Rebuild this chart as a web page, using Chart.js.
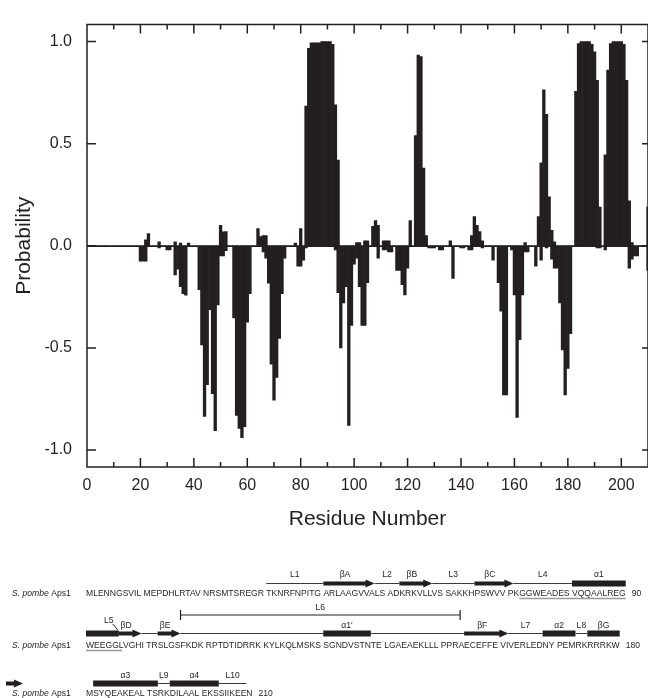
<!DOCTYPE html>
<html>
<head>
<meta charset="utf-8">
<title>Aps1 residue probability</title>
<script src="https://cdn.jsdelivr.net/npm/chart.js@4.4.1/dist/chart.umd.min.js"></script>
<style>
  body { margin: 0; background: #ffffff; }
  canvas { display: block; }
</style>
</head>
<body>
<canvas id="chart_canvas" width="648" height="698"></canvas>
<script>
var ink = '#231f20';
var family = '"Liberation Sans", Arial, sans-serif';

// residue numbers along the x axis
var residues = [];
for (var i = 1; i <= 210; i++) residues.push(i);

// upper trace, residues 1..210
var prob_up = [
    0, 0, 0, 0, 0, 0, 0, 0, 0, 0,
    0, 0, 0, 0, 0, 0, 0, 0, 0, 0,
    0, 0.029, 0.06, 0, 0, 0, 0.02, 0, 0, 0,
    0, 0, 0.02, 0, 0.013, 0, 0, 0.013, 0, 0,
    0, 0, 0, 0, 0, 0, 0, 0, 0, 0.10,
    0.068, 0.07, 0, 0, 0, 0, 0, 0, 0, 0,
    0, 0, 0, 0.084, 0.045, 0.05, 0.05, 0, 0, 0,
    0, 0, 0, 0, 0, 0, 0, 0.013, 0, 0.084,
    0, 0.684, 0.967, 0.994, 0.994, 0.994, 0.994, 1.0, 1.0, 1.0,
    1.0, 0.987, 0.69, 0.42, 0, 0, 0, 0, 0, 0,
    0.016, 0.016, 0, 0.024, 0.024, 0, 0.095, 0.123, 0.10, 0,
    0.024, 0.024, 0.024, 0, 0, 0, 0, 0, 0, 0,
    0.123, 0, 0.54, 0.934, 0.926, 0.38, 0.05, 0, 0, 0,
    0, 0, 0, 0, 0, 0.024, 0, 0, 0, 0,
    0, 0, 0, 0.05, 0.143, 0.10, 0.07, 0.024, 0, 0,
    0, 0, 0, 0, 0, 0, 0, 0, 0, 0,
    0, 0, 0, 0.016, 0, 0, 0, 0, 0.143, 0.406,
    0.764, 0.644, 0.24, 0.076, 0.02, 0, 0, 0, 0, 0,
    0, 0, 0.756, 0.99, 1.0, 1.0, 1.0, 1.0, 0.987, 0.95,
    0.81, 0.19, 0, 0.445, 0.86, 0.99, 1.0, 1.0, 1.0, 1.0,
    0.987, 0.81, 0.22, 0.016, 0, 0, 0, 0, 0, 0.19
];

// lower trace, residues 1..210
var prob_down = [
    0, 0, 0, 0, 0, 0, 0, 0, 0, 0,
    0, 0, 0, 0, 0, 0, 0, 0, 0, -0.075,
    -0.075, -0.075, 0, 0, 0, 0, -0.01, 0, 0, -0.02,
    -0.02, 0, -0.143, -0.115, -0.20, -0.234, -0.242, 0, 0, 0,
    0, -0.215, -0.485, -0.835, -0.68, -0.313, -0.724, -0.905, -0.29, -0.05,
    -0.05, -0.024, 0, 0, -0.353, -0.83, -0.894, -0.94, -0.886, -0.374,
    -0.234, 0, 0, 0, 0, -0.03, -0.06, -0.183, -0.58, -0.756,
    -0.645, -0.453, -0.234, -0.06, 0, 0, 0, 0, -0.10, -0.10,
    -0.07, -0.01, 0, 0, 0, 0, 0, 0, 0, 0,
    0, 0, -0.02, -0.23, -0.50, -0.28, -0.20, -0.88, -0.39, -0.09,
    -0.06, -0.20, -0.39, -0.39, -0.18, 0, 0, 0, -0.06, 0,
    -0.02, -0.02, -0.03, -0.03, 0, -0.12, -0.12, -0.19, -0.24, -0.11,
    0, 0, 0, 0, 0, 0, 0, -0.01, -0.01, -0.01,
    0, -0.02, -0.02, 0, 0, 0, -0.16, 0, 0, -0.01,
    -0.01, 0, -0.02, -0.02, 0, 0, 0, -0.01, 0, 0,
    0, -0.07, 0, -0.18, -0.32, -0.73, -0.73, 0, -0.02, -0.24,
    -0.84, -0.46, -0.24, -0.03, -0.03, 0, 0, -0.10, 0, -0.07,
    0, -0.01, 0, -0.065, -0.11, -0.11, -0.28, -0.51, -0.73, -0.60,
    -0.43, 0, 0, 0, 0, 0, 0, 0, 0, 0,
    -0.01, -0.01, 0, -0.02, 0, 0, 0, 0, 0, 0,
    0, 0, -0.11, -0.065, -0.05, -0.05, 0, 0, 0, -0.12
];

var x_ticks = [0, 20, 40, 60, 80, 100, 120, 140, 160, 180, 200];
var y_ticks = [-1.0, -0.5, 0.0, 0.5, 1.0];

// sequence, 90 residues per row
var seq_rows = [
    'MLENNGSVIL MEPDHLRTAV NRSMTSREGR TKNRFNPITG ARLAAGVVALS ADKRKVLLVS SAKKHPSWVV PKGGWEADES VQQAALREG',
    'WEEGGLVGHI TRSLGSFKDK RPTDTIDRRK KYLKQLMSKS SGNDVSTNTE LGAEAEKLLL PPRAECEFFE VIVERLEDNY PEMRKRRRKW',
    'MSYQEAKEAL TSRKDILAAL EKSSIIKEEN'
];
var seq_first = [1, 91, 181];
var seq_last = ['90', '180', '210'];

// secondary structure, by residue range
var ss_label = ['L1', 'βA', 'L2', 'βB', 'L3', 'βC', 'L4', 'α1', '', 'βD', '', 'βE', '', 'α1′', '', 'βF', 'L7', 'α2', 'L8', 'βG', 'α3', 'L9', 'α4', 'L10'];
var ss_kind = ['loop', 'strand', 'loop', 'strand', 'loop', 'strand', 'loop', 'helix', 'helix', 'strand', 'loop', 'strand', 'loop', 'helix', 'loop', 'strand', 'loop', 'helix', 'loop', 'helix', 'helix', 'loop', 'helix', 'loop'];
var ss_from = [31, 41, 50, 54, 60, 67, 73, 82, 91, 96, 100, 103, 107, 131, 139, 155, 163, 169, 174, 176, 182, 193, 195, 204];
var ss_to = [40, 49, 53, 59, 66, 72, 81, 90, 95, 99, 102, 106, 130, 138, 154, 162, 168, 173, 175, 180, 192, 194, 203, 209];
var loop6 = [107, 154];
var loop5_at = 96;
var motif = [74, 96];

var frame_plugin = {
    id: 'frame',
    afterDatasetsDraw: function(chart) {
        var ctx = chart.ctx, a = chart.chartArea;
        var xs = chart.scales.x, ys = chart.scales.y;
        ctx.save();
        ctx.strokeStyle = ink;
        ctx.lineWidth = 1;
        var y0 = Math.round(ys.getPixelForValue(0)) + 0.5;
        ctx.beginPath();
        ctx.moveTo(a.left, y0);
        ctx.lineTo(a.right, y0);
        ctx.stroke();

        ctx.lineWidth = 1.5;
        ctx.beginPath();
        ctx.rect(a.left, a.top, a.right - a.left, a.bottom - a.top);
        for (var v = 10; v < 210; v += 10) {
            var px = xs.getPixelForValue(v);
            var len = (v % 20 === 0) ? 9 : 5;
            ctx.moveTo(px, a.bottom);
            ctx.lineTo(px, a.bottom - len);
            ctx.moveTo(px, a.top);
            ctx.lineTo(px, a.top + len);
        }
        y_ticks.forEach(function(t) {
            var py = ys.getPixelForValue(t);
            ctx.moveTo(a.left, py);
            ctx.lineTo(a.left + 9, py);
            ctx.moveTo(a.right, py);
            ctx.lineTo(a.right - 6, py);
        });
        ctx.stroke();
        ctx.restore();
    }
};

var seq_left = 86;
var row_base = [596, 648, 696];
var row_bar = [583, 633, 683];
var row_label = [575, 626, 676];

function residue_row(n) {
    for (var r = seq_first.length - 1; r >= 0; r--) {
        if (n >= seq_first[r]) return r;
    }
    return 0;
}

// left edge of a residue letter in its row
function residue_x(ctx, row, n) {
    var s = seq_rows[row], k = n - seq_first[row], c = 0;
    for (var i = 0; i < s.length; i++) {
        if (s[i] === ' ') continue;
        if (c === k) return seq_left + ctx.measureText(s.slice(0, i)).width;
        c++;
    }
    return seq_left + ctx.measureText(s).width;
}

function draw_element(ctx, kind, x0, x1, y) {
    if (kind === 'loop') {
        ctx.strokeStyle = '#3a3a3a';
        ctx.lineWidth = 1;
        ctx.beginPath();
        ctx.moveTo(x0, y + 0.5);
        ctx.lineTo(x1, y + 0.5);
        ctx.stroke();
    } else if (kind === 'helix') {
        ctx.fillRect(x0, y - 2.5, x1 - x0, 6);
    } else {
        ctx.fillRect(x0, y - 1.5, x1 - x0 - 8, 4);
        ctx.beginPath();
        ctx.moveTo(x1 - 9, y - 3.5);
        ctx.lineTo(x1, y + 0.5);
        ctx.lineTo(x1 - 9, y + 4.5);
        ctx.closePath();
        ctx.fill();
    }
}

var seq_plugin = {
    id: 'sequence',
    afterDraw: function(chart) {
        var ctx = chart.ctx;
        ctx.save();
        // fit the first row to its printed width
        ctx.font = '10px ' + family;
        var fs = 10 * 540 / ctx.measureText(seq_rows[0]).width;
        var seq_font = fs.toFixed(2) + 'px ' + family;
        ctx.fillStyle = ink;
        ctx.textBaseline = 'alphabetic';
        ctx.textAlign = 'left';

        for (var r = 0; r < seq_rows.length; r++) {
            var base = row_base[r];
            ctx.font = 'italic 8.6px ' + family;
            ctx.fillText('S. pombe', 12, base);
            var w = ctx.measureText('S. pombe ').width;
            ctx.font = '8.6px ' + family;
            ctx.fillText('Aps1', 12 + w, base);
            ctx.font = seq_font;
            ctx.fillText(seq_rows[r], seq_left, base);
            var end = seq_left + ctx.measureText(seq_rows[r]).width;
            ctx.fillText(seq_last[r], end + 6, base);
        }

        ctx.font = seq_font;
        // underlined glycine-rich stretch
        ctx.strokeStyle = '#9a9a9a';
        ctx.lineWidth = 1.4;
        ctx.beginPath();
        for (var r2 = 0; r2 < seq_rows.length; r2++) {
            var lo = Math.max(motif[0], seq_first[r2]);
            var hi = Math.min(motif[1], r2 + 1 < seq_first.length ? seq_first[r2 + 1] - 1 : 210);
            if (lo > hi) continue;
            var ux0 = residue_x(ctx, r2, lo);
            var ux1 = (hi + 1 < (seq_first[r2 + 1] || 211)) ? residue_x(ctx, r2, hi + 1) - 1.5 : seq_left + ctx.measureText(seq_rows[r2]).width;
            ctx.moveTo(ux0, row_base[r2] + 2.5);
            ctx.lineTo(ux1, row_base[r2] + 2.5);
        }
        ctx.stroke();

        // secondary structure elements
        for (var e = 0; e < ss_kind.length; e++) {
            var row = residue_row(ss_from[e]);
            var x0 = residue_x(ctx, row, ss_from[e]);
            var x1 = residue_x(ctx, row, ss_to[e] + 1);
            ctx.fillStyle = ink;
            draw_element(ctx, ss_kind[e], x0, x1, row_bar[row]);
            if (ss_label[e]) {
                ctx.font = '8.6px ' + family;
                ctx.textAlign = 'center';
                ctx.textBaseline = 'middle';
                var cx = ss_kind[e] === 'strand' ? (x0 + x1 - 8) / 2 : (x0 + x1) / 2;
                ctx.fillText(ss_label[e], cx, row_label[row]);
                ctx.font = seq_font;
            }
        }
        // strand βG runs on into the last row
        draw_element(ctx, 'strand', 6, 23, row_bar[2]);

        // L5 pointer
        var p5 = residue_x(ctx, 1, loop5_at);
        ctx.font = '8.6px ' + family;
        ctx.textAlign = 'center';
        ctx.textBaseline = 'middle';
        ctx.fillText('L5', p5 - 10, 621);
        ctx.strokeStyle = ink;
        ctx.lineWidth = 1;
        ctx.beginPath();
        ctx.moveTo(p5 - 6, 624);
        ctx.lineTo(p5 - 1, 630);
        ctx.stroke();

        // L6 bracket
        ctx.font = seq_font;
        var b0 = residue_x(ctx, 1, loop6[0]);
        var b1 = residue_x(ctx, 1, loop6[1] + 1) - 4;
        ctx.lineWidth = 1.2;
        ctx.beginPath();
        ctx.moveTo(b0, 615); ctx.lineTo(b1, 615);
        ctx.moveTo(b0, 610); ctx.lineTo(b0, 620);
        ctx.moveTo(b1, 610); ctx.lineTo(b1, 620);
        ctx.stroke();
        ctx.font = '8.6px ' + family;
        ctx.fillText('L6', (b0 + b1) / 2, 608);
        ctx.restore();
    }
};

var bar_style = {
    backgroundColor: ink,
    borderWidth: 0,
    barPercentage: 1.0,
    categoryPercentage: 1.0,
    grouped: false
};

var temperature_chart = new Chart(document.getElementById('chart_canvas').getContext('2d'), {
    type: 'bar',
    data: {
        labels: residues,
        datasets: [
            Object.assign({ label: 'up', data: prob_up }, bar_style),
            Object.assign({ label: 'down', data: prob_down }, bar_style)
        ]
    },
    options: {
        responsive: false,
        animation: false,
        events: [],
        layout: { padding: { top: 13, right: 0, bottom: 158, left: 0 } },
        plugins: { legend: { display: false }, tooltip: { enabled: false } },
        scales: {
            x: {
                type: 'linear',
                min: 0,
                max: 210,
                offset: false,
                grid: { display: false, drawTicks: false },
                border: { display: false },
                afterBuildTicks: function(s) {
                    s.ticks = x_ticks.map(function(v) { return { value: v }; });
                },
                afterFit: function(s) { s.height = 73; },
                ticks: {
                    autoSkip: false,
                    maxRotation: 0,
                    padding: 9,
                    color: ink,
                    font: { family: family, size: 16 },
                    callback: function(v) { return String(v); }
                },
                title: {
                    display: true,
                    text: 'Residue Number',
                    color: ink,
                    font: { family: family, size: 21 },
                    padding: { top: 0, bottom: 8 }
                }
            },
            y: {
                min: -1.083,
                max: 1.083,
                grid: { display: false, drawTicks: false },
                border: { display: false },
                afterBuildTicks: function(s) {
                    s.ticks = y_ticks.map(function(v) { return { value: v }; });
                },
                afterFit: function(s) { s.width = 87; },
                ticks: {
                    padding: 15,
                    color: ink,
                    font: { family: family, size: 16 },
                    callback: function(v) { return v.toFixed(1); }
                },
                title: {
                    display: true,
                    text: 'Probability',
                    color: ink,
                    font: { family: family, size: 21 },
                    padding: { top: 12, bottom: 0 }
                }
            }
        }
    },
    plugins: [frame_plugin, seq_plugin]
});
</script>
</body>
</html>
